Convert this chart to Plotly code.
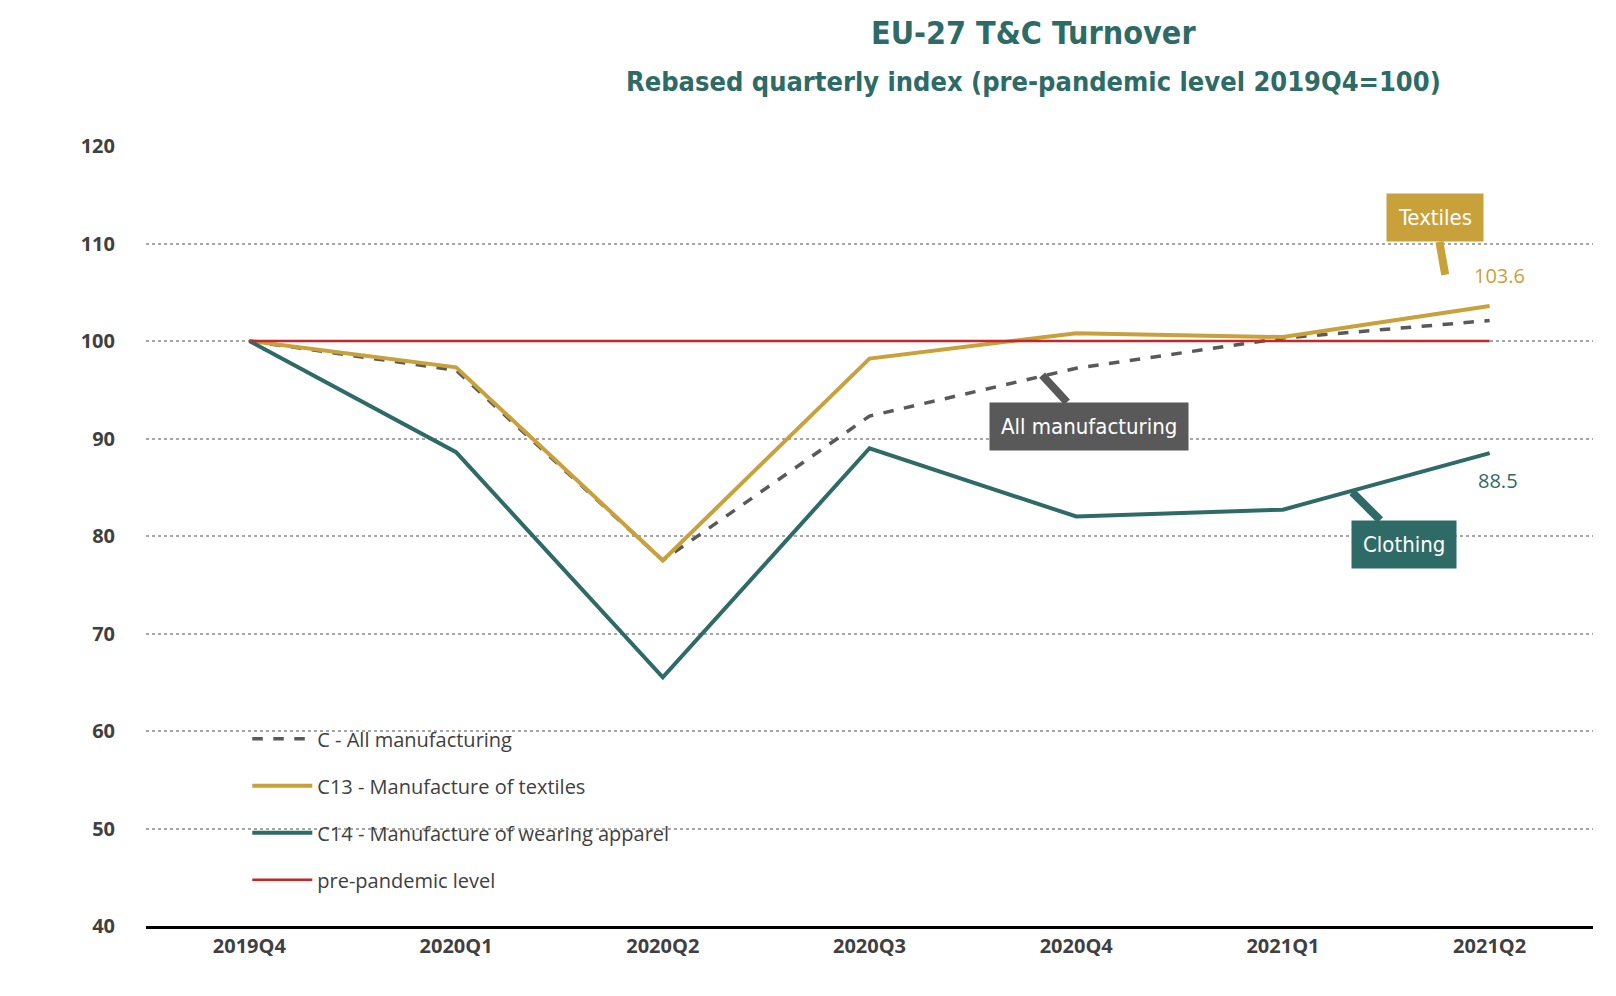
import plotly.graph_objects as go

quarters = ["2019Q4", "2020Q1", "2020Q2", "2020Q3", "2020Q4", "2021Q1", "2021Q2"]
all_manuf = [100, 97.0, 77.5, 92.3, 97.2, 100.3, 102.1]
textiles = [100, 97.3, 77.5, 98.2, 100.8, 100.4, 103.6]
clothing = [100, 88.6, 65.5, 89.0, 82.0, 82.7, 88.5]
pre_pandemic = [100] * 7

GOLD = "#C9A13A"
TEAL = "#2E6B66"
GREY = "#595959"
RED = "#C0282D"

fig = go.Figure()
fig.add_trace(go.Scatter(x=quarters, y=all_manuf, mode="lines", name="C - All manufacturing",
                         legendgroup="a", line=dict(color=GREY, width=3.5, dash="dash")))
fig.add_trace(go.Scatter(x=quarters, y=textiles, mode="lines", name="C13 - Manufacture of textiles",
                         legendgroup="b", line=dict(color=GOLD, width=4)))
fig.add_trace(go.Scatter(x=quarters, y=clothing, mode="lines", name="C14 - Manufacture of wearing apparel",
                         legendgroup="c", line=dict(color=TEAL, width=4)))
fig.add_trace(go.Scatter(x=quarters, y=pre_pandemic, mode="lines", name="pre-pandemic level",
                         legendgroup="d", line=dict(color=RED, width=2.5)))

callout = dict(showarrow=True, arrowhead=0, arrowwidth=8, axref="pixel", ayref="pixel",
               font=dict(family="DejaVu Sans Condensed", size=22, color="white"),
               borderpad=11, standoff=0)
fig.add_annotation(x=5.785, y=106.8, ax=-10, ay=-57, text="Textiles", bgcolor=GOLD,
                   arrowcolor=GOLD, **callout)
fig.add_annotation(x=3.835, y=96.5, ax=47, ay=51, text="All manufacturing", bgcolor=GREY,
                   arrowcolor=GREY, **callout)
fig.add_annotation(x=5.335, y=84.5, ax=52, ay=52, text="Clothing", bgcolor=TEAL,
                   arrowcolor=TEAL, **callout)

fig.add_annotation(x=6, y=textiles[-1], text=f"{textiles[-1]}", showarrow=False, xshift=10, yshift=30,
                   font=dict(family="Open Sans", size=20, color=GOLD))
fig.add_annotation(x=6, y=clothing[-1], text=f"{clothing[-1]}", showarrow=False, xshift=8, yshift=-27,
                   font=dict(family="Open Sans", size=20, color=TEAL))

fig.add_annotation(xref="paper", yref="paper", x=0.613, y=1.0, yshift=113, yanchor="middle",
                   showarrow=False, text="<b>EU-27 T&C Turnover</b>",
                   font=dict(family="DejaVu Sans Condensed", size=32, color=TEAL))
fig.add_annotation(xref="paper", yref="paper", x=0.613, y=1.0, yshift=65, yanchor="middle",
                   showarrow=False, text="<b>Rebased quarterly index (pre-pandemic level 2019Q4=100)</b>",
                   font=dict(family="DejaVu Sans Condensed", size=27, color=TEAL))

fig.update_layout(
    width=1616, height=996,
    paper_bgcolor="white", plot_bgcolor="white",
    margin=dict(l=138, r=31, t=138, b=78),
    legend=dict(x=0.07, y=0.265, xanchor="left", yanchor="top", bgcolor="rgba(0,0,0,0)",
                font=dict(family="Open Sans", size=20, color="#404040"), tracegroupgap=18,
                itemwidth=60),
    showlegend=True,
)
fig.update_xaxes(range=[-0.5, 6.5], showgrid=False, showline=True, linecolor="black", linewidth=3,
                 ticks="", tickfont=dict(family="Open Sans", size=20, color="#404040"),
                 tickprefix="<b>", ticksuffix="</b>")
fig.update_yaxes(range=[40, 120], dtick=10, showgrid=True, gridcolor="#A6A6A6", griddash="dot",
                 gridwidth=1.5, zeroline=False, ticks="", ticklabelstandoff=30,
                 tickfont=dict(family="Open Sans", size=20, color="#404040"),
                 tickprefix="<b>", ticksuffix="</b>")

fig.write_html("out.html")
